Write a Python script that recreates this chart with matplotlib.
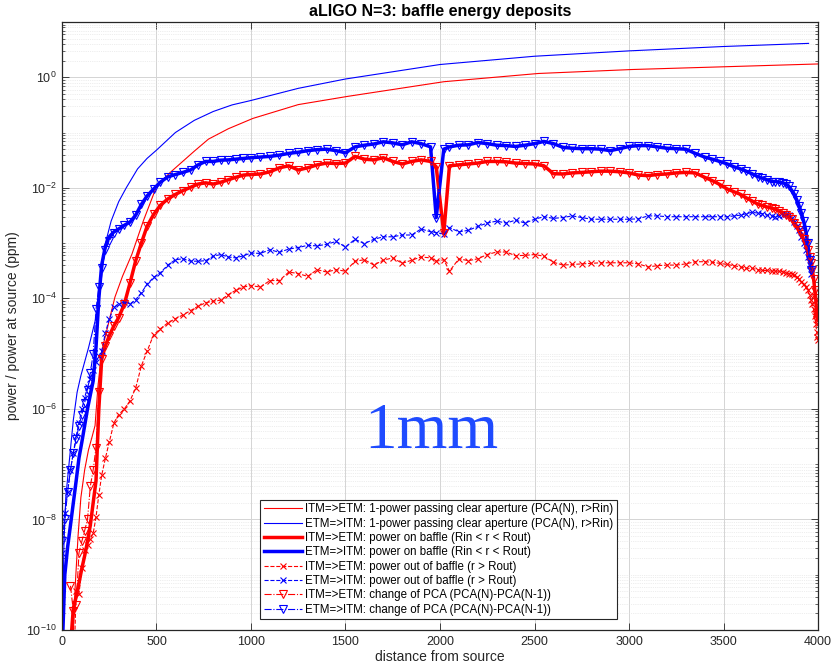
import numpy as np
import matplotlib
matplotlib.use("Agg")
import matplotlib.pyplot as plt
from matplotlib.ticker import FixedLocator, LogLocator, NullFormatter

nan = np.nan

plt.rcParams["font.family"] = ["Liberation Sans", "DejaVu Sans"]

# --- data (distance from source, power / power at source in ppm) ---
distance = [
    0, 15, 30, 45, 60, 75, 90, 105, 120, 135, 150, 165, 180, 195, 210,
    230, 250, 275, 300, 330, 360, 390, 420, 450, 485, 520, 560, 600, 640, 680, 720, 760, 800, 840, 880, 920, 960,
    1000, 1050, 1100, 1150, 1200, 1250, 1300, 1350, 1400, 1450,
    1500, 1550, 1600, 1650, 1700, 1750, 1800, 1850, 1900, 1950,
    1980, 2020,
    2050, 2100, 2150, 2200, 2250, 2300, 2350, 2400, 2450, 2500,
    2550, 2600, 2650, 2700, 2750, 2800, 2850, 2900, 2950, 3000,
    3050, 3100, 3150, 3200, 3250, 3300, 3350, 3400,
    3440, 3480, 3520, 3555, 3590, 3620, 3650, 3680, 3705, 3730,
    3755, 3775, 3795, 3815, 3830, 3845, 3860, 3875, 3888, 3900,
    3912, 3924, 3935, 3945, 3955, 3963, 3970, 3977, 3983, 3988,
    3993, 3997, 4000,
]

# 1-power passing clear aperture (smooth curves, own sampling)
itm_ca_dist = [55, 70, 85, 100, 120, 140, 160, 175, 190, 210, 245, 280, 320, 370, 430, 500,
               570, 700, 775, 880, 1010, 1250, 1510, 2020, 2520, 3015, 3510, 4000]
itm_ca = [3.2e-11, 6.3e-10, 5.0e-9, 2.5e-8, 7.9e-8, 1.8e-7, 3.2e-7, 5.0e-7, 2.5e-6, 1.1e-5, 3.4e-5,
          1.05e-4, 2.5e-4, 6.3e-4, 2.5e-3, 1.05e-2, 1.86e-2, 4.6e-2, 7.6e-2, 1.17e-1, 1.8e-1, 3.2e-1,
          4.5e-1, 8.3e-1, 1.17, 1.38, 1.55, 1.74]

etm_ca_dist = [0, 10, 20, 40, 60, 80, 100, 140, 180, 200, 230, 260, 300, 340, 400, 450, 500,
               600, 700, 800, 900, 1000, 1250, 1500, 2000, 2500, 3000, 3500, 3950]
etm_ca = [3.2e-11, 3.2e-9, 2.5e-8, 1.26e-7, 6.3e-7, 2.0e-6, 4.0e-6, 1.26e-5, 4.5e-5, 1.26e-4, 1.0e-3,
          2.5e-3, 5.6e-3, 1.0e-2, 2.2e-2, 3.4e-2, 4.8e-2, 1.0e-1, 1.66e-1, 2.4e-1, 3.16e-1, 3.8e-1,
          6.3e-1, 0.93, 1.7, 2.4, 3.0, 3.6, 4.1]

# power on baffle (Rin < r < Rout)
itm_on = [
    nan, nan, nan, 5.0e-11, 2.5e-10, 4.0e-10, 7.1e-10, 1.3e-9, 2.2e-9, 4.0e-9, 7.9e-9, 2.0e-8, 5.0e-8, 1.0e-6, 7.9e-6,
    1.4e-5, 2.1e-5, 3.2e-5, 4.5e-5, 7.9e-5, 1.9e-4, 4.8e-4, 1.0e-3, 2.0e-3, 3.3e-3, 4.8e-3, 6.3e-3, 7.6e-3,
    8.9e-3, 1.02e-2, 1.17e-2, 1.23e-2, 1.17e-2, 1.26e-2, 1.4e-2, 1.55e-2, 1.7e-2,
    1.74e-2, 1.78e-2, 1.95e-2, 2.3e-2, 2.5e-2, 2.1e-2, 2.3e-2, 2.6e-2, 2.8e-2, 2.75e-2,
    2.8e-2, 3.7e-2, 3.3e-2, 3.2e-2, 3.5e-2, 3.0e-2, 2.7e-2, 3.0e-2, 3.2e-2, 3.0e-2,
    2.4e-2, 1.5e-3,
    2.5e-2, 2.6e-2, 2.7e-2, 2.8e-2, 3.0e-2, 3.0e-2, 2.95e-2, 2.8e-2, 2.75e-2, 2.7e-2,
    2.5e-2, 1.8e-2, 1.78e-2, 1.86e-2, 1.9e-2, 1.95e-2, 2.0e-2, 2.0e-2, 1.95e-2, 1.86e-2,
    1.7e-2, 1.66e-2, 1.74e-2, 1.78e-2, 1.86e-2, 1.9e-2, 1.86e-2, 1.55e-2,
    1.35e-2, 1.15e-2, 9.5e-3, 8.5e-3, 7.6e-3, 6.6e-3, 5.8e-3, 5.1e-3, 4.8e-3, 4.5e-3,
    4.3e-3, 4.1e-3, 3.8e-3, 3.5e-3, 3.2e-3, 3.0e-3, 2.7e-3, 2.3e-3, 2.0e-3, 1.7e-3,
    1.45e-3, 1.17e-3, 9.5e-4, 7.6e-4, 5.6e-4, 4.4e-4, 3.3e-4, 2.2e-4, 1.4e-4, 1.0e-4,
    5.0e-5, 4.0e-5, 5.0e-5,
]

etm_on = [
    3.2e-11, 1.0e-9, 3.2e-9, 7.9e-9, 2.0e-8, 5.0e-8, 1.3e-7, 2.5e-7, 5.0e-7, 1.0e-6, 1.8e-6, 3.2e-6, 1.3e-5, 1.0e-4, 4.0e-4,
    8.9e-4, 1.3e-3, 1.6e-3, 1.8e-3, 2.1e-3, 2.4e-3, 3.2e-3, 5.0e-3, 7.1e-3, 9.5e-3, 1.26e-2, 1.58e-2, 1.74e-2,
    1.9e-2, 2.1e-2, 2.6e-2, 3.0e-2, 3.0e-2, 3.16e-2, 3.2e-2, 3.3e-2, 3.4e-2,
    3.5e-2, 3.6e-2, 3.7e-2, 3.9e-2, 4.2e-2, 4.4e-2, 4.7e-2, 4.9e-2, 5.0e-2, 4.7e-2,
    4.3e-2, 5.5e-2, 5.9e-2, 6.2e-2, 6.8e-2, 6.5e-2, 6.0e-2, 6.8e-2, 6.3e-2, 5.5e-2,
    2.9e-3, 5.0e-2,
    5.5e-2, 5.9e-2, 6.0e-2, 6.6e-2, 6.3e-2, 5.9e-2, 5.8e-2, 5.6e-2, 5.9e-2, 6.3e-2,
    6.9e-2, 6.3e-2, 5.4e-2, 5.2e-2, 5.1e-2, 5.1e-2, 5.0e-2, 4.7e-2, 5.1e-2, 5.6e-2,
    5.8e-2, 5.8e-2, 5.5e-2, 5.2e-2, 5.1e-2, 5.0e-2, 4.2e-2, 3.6e-2,
    3.3e-2, 3.0e-2, 2.7e-2, 2.4e-2, 2.2e-2, 2.0e-2, 1.8e-2, 1.6e-2, 1.5e-2, 1.4e-2,
    1.3e-2, 1.3e-2, 1.26e-2, 1.23e-2, 1.17e-2, 1.07e-2, 9.1e-3, 7.6e-3, 6.0e-3, 4.7e-3,
    3.5e-3, 2.5e-3, 1.7e-3, 1.0e-3, 5.0e-4, 3.2e-4, nan, nan, nan, nan,
    nan, nan, nan,
]

# power out of baffle (r > Rout)
itm_out = [
    nan, nan, nan, nan, 1.0e-11, 5.0e-10, 4.5e-10, 1.3e-9, 2.8e-9, 3.5e-9, 4.5e-9, 5.6e-9, 1.1e-8, 2.8e-8, 6.3e-8,
    1.3e-7, 2.5e-7, 5.6e-7, 7.9e-7, 1.0e-6, 1.4e-6, 2.4e-6, 6.0e-6, 1.1e-5, 2.2e-5, 2.8e-5, 3.6e-5, 4.3e-5,
    5.0e-5, 6.0e-5, 7.2e-5, 8.3e-5, 8.9e-5, 9.3e-5, 1.17e-4, 1.4e-4, 1.6e-4,
    1.7e-4, 1.6e-4, 2.1e-4, 2.1e-4, 3.0e-4, 2.8e-4, 2.5e-4, 3.3e-4, 3.0e-4, 3.3e-4,
    3.1e-4, 4.7e-4, 5.0e-4, 4.0e-4, 4.9e-4, 5.4e-4, 4.3e-4, 4.9e-4, 5.6e-4, 5.4e-4,
    4.7e-4, 5.0e-4,
    3.1e-4, 5.2e-4, 4.8e-4, 5.2e-4, 6.2e-4, 6.9e-4, 6.9e-4, 5.9e-4, 6.0e-4, 6.2e-4,
    5.8e-4, 4.5e-4, 4.0e-4, 4.1e-4, 4.2e-4, 4.3e-4, 4.4e-4, 4.4e-4, 4.4e-4, 4.4e-4,
    4.2e-4, 3.7e-4, 3.9e-4, 4.0e-4, 4.0e-4, 4.2e-4, 4.6e-4, 4.6e-4,
    4.5e-4, 4.3e-4, 4.1e-4, 3.9e-4, 3.7e-4, 3.5e-4, 3.5e-4, 3.3e-4, 3.2e-4, 3.2e-4,
    3.1e-4, 3.1e-4, 3.1e-4, 3.0e-4, 2.9e-4, 2.8e-4, 2.75e-4, 2.6e-4, 2.45e-4, 2.2e-4,
    2.0e-4, 1.8e-4, 1.6e-4, 1.4e-4, 1.17e-4, 9.5e-5, 7.9e-5, 6.3e-5, 4.7e-5, 3.5e-5,
    2.5e-5, 2.0e-5, 1.8e-5,
]

etm_out = [
    2.5e-9, 1.3e-8, 3.2e-8, 7.9e-8, 1.6e-7, 3.2e-7, 5.6e-7, 1.0e-6, 1.6e-6, 2.5e-6, 3.5e-6, 5.0e-6, 7.1e-6, 8.9e-6, 1.1e-5,
    2.4e-5, 4.2e-5, 6.9e-5, 7.9e-5, 8.7e-5, 7.9e-5, 9.5e-5, 1.26e-4, 1.8e-4, 2.4e-4, 2.9e-4, 4.0e-4, 5.0e-4,
    5.2e-4, 4.7e-4, 4.7e-4, 4.8e-4, 5.8e-4, 6.2e-4, 5.6e-4, 5.4e-4, 5.9e-4,
    6.6e-4, 6.5e-4, 7.6e-4, 6.8e-4, 7.8e-4, 8.3e-4, 9.1e-4, 8.9e-4, 9.5e-4, 1.07e-3,
    8.5e-4, 1.17e-3, 9.8e-4, 1.17e-3, 1.3e-3, 1.3e-3, 1.4e-3, 1.4e-3, 1.8e-3, 1.6e-3,
    1.55e-3, 1.45e-3,
    1.9e-3, 1.6e-3, 1.7e-3, 2.0e-3, 2.3e-3, 2.5e-3, 2.3e-3, 2.6e-3, 2.3e-3, 2.7e-3,
    3.0e-3, 2.8e-3, 2.9e-3, 3.1e-3, 2.9e-3, 2.7e-3, 2.7e-3, 2.7e-3, 2.7e-3, 2.7e-3,
    2.75e-3, 3.1e-3, 3.1e-3, 3.0e-3, 3.0e-3, 3.0e-3, 3.0e-3, 3.0e-3,
    3.0e-3, 3.0e-3, 3.0e-3, 3.1e-3, 3.2e-3, 3.4e-3, 3.6e-3, 3.5e-3, 3.4e-3, 3.2e-3,
    3.1e-3, 3.0e-3, 3.1e-3, 3.2e-3, 3.3e-3, 3.2e-3, 2.8e-3, 2.4e-3, 2.0e-3, 1.7e-3,
    1.3e-3, 1.0e-3, 7.6e-4, 5.6e-4, 4.0e-4, 2.8e-4, nan, nan, nan, nan,
    nan, nan, nan,
]

# change of PCA (PCA(N)-PCA(N-1)): differs from the on-baffle curve only near the source
itm_pca_head = [nan, nan, nan, 6.3e-10, 2.2e-10, 2.8e-10, 2.5e-9, 4.0e-9, 6.3e-9, 1.0e-8, 4.0e-8, 7.9e-8,
                2.0e-7, 2.0e-6, 7.9e-6]
itm_pca = itm_pca_head + itm_on[15:]

etm_pca_head = [4.0e-9, 1.0e-8, 3.2e-8, 7.9e-8, 1.6e-7, 2.8e-7, 5.0e-7, 7.9e-7, 1.3e-6, 2.2e-6, 4.5e-6, 1.0e-5,
                6.3e-5, 1.6e-4, 3.5e-4, 7.6e-4, 1.1e-3, 1.5e-3]
etm_pca = etm_pca_head + etm_on[18:]

labels = [
    "ITM=>ETM: 1-power passing clear aperture (PCA(N), r>Rin)",
    "ETM=>ITM: 1-power passing clear aperture (PCA(N), r>Rin)",
    "ITM=>ETM: power on baffle (Rin < r < Rout)",
    "ETM=>ITM: power on baffle (Rin < r < Rout)",
    "ITM=>ETM: power out of baffle (r > Rout)",
    "ETM=>ITM: power out of baffle (r > Rout)",
    "ITM=>ETM: change of PCA (PCA(N)-PCA(N-1))",
    "ETM=>ITM: change of PCA (PCA(N)-PCA(N-1))",
]

fig = plt.figure(figsize=(8.32, 6.64), dpi=100)
ax = fig.add_axes([0.0745, 0.0512, 0.9087, 0.9157])

ax.plot(itm_ca_dist, itm_ca, color="r", lw=0.8, label=labels[0])
ax.plot(etm_ca_dist, etm_ca, color="b", lw=0.8, label=labels[1])
ax.plot(distance, itm_on, color="r", lw=2.5, label=labels[2])
ax.plot(distance, etm_on, color="b", lw=2.5, label=labels[3])
ax.plot(distance, itm_out, color="r", ls="--", lw=0.8, marker="x", ms=4.5, mew=0.8, label=labels[4])
ax.plot(distance, etm_out, color="b", ls="--", lw=0.8, marker="x", ms=4.5, mew=0.8, label=labels[5])
ax.plot(distance, itm_pca, color="r", ls="-.", lw=0.8, marker="v", ms=6, mew=0.8, mfc="none", label=labels[6])
ax.plot(distance, etm_pca, color="b", ls="-.", lw=0.8, marker="v", ms=6, mew=0.8, mfc="none", label=labels[7])

ax.set_yscale("log")
ax.set_xlim(0, 4000)
ax.set_ylim(1e-10, 1e1)
ax.set_xticks([0, 500, 1000, 1500, 2000, 2500, 3000, 3500, 4000])
ax.yaxis.set_major_locator(FixedLocator([1e-10, 1e-8, 1e-6, 1e-4, 1e-2, 1e0]))
ax.yaxis.set_minor_locator(LogLocator(base=10, subs=np.arange(1, 10), numticks=40))
ax.yaxis.set_minor_formatter(NullFormatter())

ax.grid(which="major", color="#d4d4d4", lw=0.7, ls="-")
ax.grid(which="minor", axis="y", color="#dedede", lw=0.5, ls=":")
ax.set_axisbelow(True)

ax.tick_params(which="both", direction="in", top=True, right=True, colors="#262626", labelsize=9, pad=4)
ax.tick_params(which="major", length=5, width=0.6)
ax.tick_params(which="minor", length=2.5, width=0.5)
for sp in ax.spines.values():
    sp.set_color("#262626")
    sp.set_linewidth(0.9)

ax.set_title("aLIGO N=3: baffle energy deposits", fontsize=11.5, fontweight="bold", pad=4, color="#000000")
ax.set_xlabel("distance from source", fontsize=10, color="#262626", labelpad=2)
ax.set_ylabel("power / power at source (ppm)", fontsize=10, color="#262626", labelpad=4)

ax.text(0.488, 0.30, "1mm", transform=ax.transAxes, ha="center", va="baseline",
        fontsize=47, family="Liberation Serif", color="#1f4bff")

leg = ax.legend(loc="lower left", bbox_to_anchor=(0.262, 0.018), fontsize=8.3, handlelength=3.3,
                handletextpad=0.3, labelspacing=0.2, borderpad=0.3, borderaxespad=0,
                fancybox=False, framealpha=1, edgecolor="#262626")
leg.get_frame().set_linewidth(0.8)

fig.savefig("out.png", dpi=100)
